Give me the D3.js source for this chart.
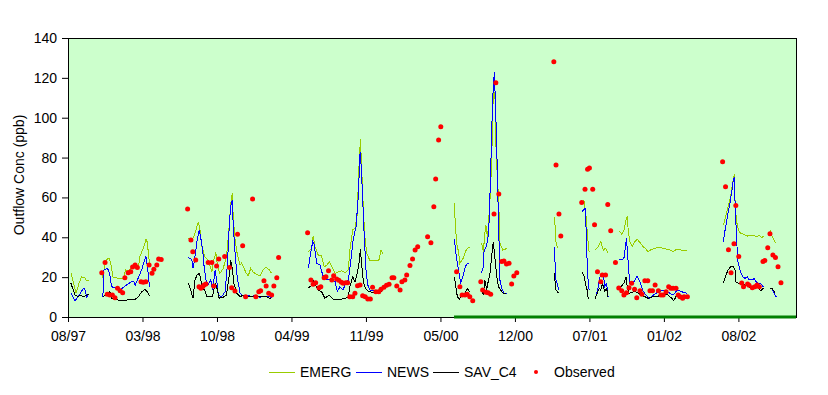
<!DOCTYPE html>
<meta charset="utf-8">
<style>
body { margin: 0; background: #fff; }
text { font-family: Arial, "Liberation Sans", sans-serif; font-size: 14px; fill: #000; }
.axis path.domain { display: none; }
.axis line { stroke: #000; }
</style>
<svg></svg>
<script src="https://d3js.org/d3.v7.min.js"></script>
<script>

// x values are days since mid-August 1997, y values are ppb
var tickLabels = ["08/97", "03/98", "10/98", "04/99", "11/99", "05/00", "12/00", "07/01", "01/02", "08/02"];
var tickStep = 203;   // days between labelled ticks
var dayMax = 1984;
var yTicks = [0, 20, 40, 60, 80, 100, 120, 140];

var emerg = [
  [[8,22.2],[22,12.0],[30,16.9],[37,20.1],[46,19.6],[51,18.1],[57,18.1]],
  [[93,19.4],[104,28.6],[112,29.6],[116,27.5],[123,19.9],[137,19.4],[151,19.6],[157,23.6],[164,22.9],[174,24.9],[183,26.1],[192,24.9],[196,30.3],[205,34.5],[213,39.1],[216,37.5],[222,26.9]],
  [[328,39.5],[337,37.8],[346,42.0],[355,47.8],[360,43.7],[364,36.1],[373,30.3],[382,28.4],[392,22.7],[396,27.8],[403,32.3],[408,25.0],[414,21.9],[423,24.4],[432,30.3],[440,47.0],[443,56.2],[448,62.4],[450,51.0],[455,39.5],[460,32.8],[469,26.1],[473,27.0],[480,24.4],[485,22.2],[491,20.6],[498,24.4],[505,22.5],[514,21.4],[523,20.6],[532,23.9],[540,24.9],[549,23.6],[555,21.9]],
  [[655,32.8],[664,34.5],[668,40.6],[673,35.3],[682,31.1],[691,30.6],[698,25.2],[705,25.9],[712,27.8],[719,25.2],[728,21.9],[737,22.7],[746,23.2],[755,22.2],[764,23.6],[768,33.6],[776,43.7],[782,44.4],[788,51.2],[793,75.4],[797,89.2],[800,75.4],[805,53.7],[809,40.3],[814,32.0],[823,28.3],[837,28.1],[847,28.3],[853,33.6],[859,31.5]],
  [[1053,57.0],[1055,48.7],[1059,37.0],[1064,33.0],[1068,26.9],[1077,29.5],[1086,34.0],[1094,35.0]],
  [[1127,37.3],[1132,32.8],[1136,42.0],[1139,46.2],[1143,40.0],[1145,44.0],[1150,58.7],[1155,78.8],[1157,103.9],[1161,113.0],[1164,109.0],[1166,87.2],[1170,70.4],[1174,57.1],[1177,37.0],[1185,33.6],[1191,34.0],[1195,34.5]],
  [[1325,50.0],[1328,45.0],[1330,37.8],[1334,34.5]],
  [[1400,57.4],[1406,58.7],[1412,50.3],[1416,40.3],[1420,32.8]],
  [[1436,33.6],[1444,35.0],[1452,37.8],[1459,33.6],[1465,34.5],[1472,32.3]],
  [[1502,43.2],[1509,41.6],[1515,43.5],[1521,48.7],[1524,50.7],[1527,42.8],[1531,37.8],[1538,35.6],[1545,37.8],[1551,39.0],[1559,37.3],[1566,35.6],[1574,34.3],[1581,32.8],[1591,34.0],[1600,34.5],[1613,35.0],[1627,34.2],[1640,33.6],[1649,32.8],[1659,34.0],[1672,33.6],[1686,33.6]],
  [[1786,46.0],[1793,51.2],[1799,55.3],[1806,60.4],[1811,67.1],[1816,71.5],[1818,57.1],[1822,48.0],[1827,43.7],[1833,42.0],[1842,41.5],[1851,40.6],[1860,41.0],[1867,41.1],[1877,40.3],[1884,41.1],[1890,39.8],[1897,40.6]],
  [[1913,43.7],[1918,41.0],[1924,38.6],[1929,37.0]]
];

var news = [
  [[8,11.9],[19,8.2],[28,10.2],[42,14.4],[46,13.9],[51,10.2],[57,11.4]],
  [[95,10.2],[98,23.6],[107,24.4],[110,23.6],[114,21.0],[119,15.2],[130,14.5],[142,13.5],[153,15.2],[160,16.1],[166,16.9],[174,17.7],[180,17.7],[183,16.0],[193,20.2],[202,24.4],[212,30.6],[216,26.1],[222,15.2]],
  [[328,29.8],[337,29.0],[341,24.4],[346,30.3],[352,38.6],[358,43.7],[362,39.5],[367,33.6],[371,25.2],[376,18.6],[382,16.1],[389,18.6],[394,13.5],[401,23.6],[405,18.6],[410,11.0],[419,10.2],[428,12.7],[434,25.2],[439,43.7],[443,55.3],[448,58.7],[450,47.0],[455,32.8],[461,20.2],[469,11.9],[478,10.5],[487,11.0],[501,10.2],[510,11.0],[523,9.9],[537,10.5],[550,10.2],[555,9.4]],
  [[655,24.4],[661,32.0],[667,37.8],[670,37.0],[678,26.9],[687,26.1],[694,21.1],[705,18.6],[719,18.6],[728,17.7],[734,12.7],[741,15.2],[749,13.5],[758,17.2],[764,18.6],[770,26.9],[777,38.6],[785,45.3],[791,60.4],[796,82.9],[798,78.7],[802,63.7],[807,42.0],[812,23.6],[817,16.1],[823,13.5],[837,13.2],[850,12.7],[859,13.2]],
  [[1053,39.0],[1056,33.6],[1061,26.9],[1066,21.9],[1070,17.2],[1076,20.0],[1082,24.4],[1086,26.5],[1094,26.9]],
  [[1127,22.2],[1132,25.0],[1134,33.6],[1139,35.0],[1144,38.6],[1148,48.7],[1152,73.8],[1155,95.5],[1159,115.6],[1162,123.1],[1164,112.0],[1168,88.8],[1172,57.1],[1175,35.3],[1177,18.6],[1182,14.4],[1188,11.9],[1195,11.7]],
  [[1325,35.0],[1328,25.2],[1330,18.6],[1333,16.9],[1337,13.5]],
  [[1401,52.8],[1409,54.5],[1411,50.0],[1413,37.0],[1416,21.9],[1419,14.4],[1422,13.5]],
  [[1436,8.9],[1441,11.9],[1445,15.2],[1450,20.2],[1454,21.9],[1459,21.0],[1463,15.2],[1468,16.9],[1472,10.2]],
  [[1502,28.9],[1512,28.9],[1515,29.4],[1519,35.3],[1522,39.5],[1525,32.0],[1528,23.6],[1531,16.9],[1538,16.4],[1545,18.6],[1551,20.6],[1559,17.7],[1566,13.5],[1575,11.0],[1584,9.4],[1595,11.0],[1609,12.7],[1622,13.5],[1631,13.2],[1640,11.9],[1649,11.0],[1660,13.5],[1672,12.7],[1686,11.9]],
  [[1786,37.8],[1790,42.8],[1797,50.3],[1804,57.1],[1809,63.0],[1813,68.7],[1816,70.4],[1818,57.1],[1822,40.3],[1825,28.6],[1829,25.2],[1833,22.7],[1839,20.2],[1845,19.4],[1851,20.2],[1857,18.6],[1866,18.6],[1870,19.4],[1875,17.7],[1881,16.9],[1888,16.6],[1895,15.2]],
  [[1913,14.0],[1918,14.5],[1922,12.7],[1927,11.0],[1931,9.9]]
];

var savC4 = [
  [[8,16.9],[19,11.0],[28,10.2],[33,11.0],[42,10.2],[51,11.0],[57,11.4]],
  [[95,10.2],[110,11.9],[114,12.7],[119,9.4],[137,8.5],[160,8.5],[183,8.9],[192,10.2],[201,12.7],[210,13.9],[216,12.7],[222,10.5]],
  [[328,17.2],[335,13.0],[341,9.4],[346,18.6],[352,21.1],[358,21.9],[362,18.6],[367,14.4],[373,13.5],[378,10.2],[387,10.5],[394,10.2],[401,16.9],[405,15.2],[412,9.4],[423,9.9],[432,11.0],[440,21.9],[443,28.6],[448,24.4],[452,16.9],[460,11.9],[469,10.2],[478,11.0],[487,10.2],[501,10.5],[514,9.9],[528,10.5],[541,10.2],[552,9.0]],
  [[655,14.7],[664,15.7],[668,18.6],[676,15.7],[682,13.5],[691,12.7],[700,9.4],[712,11.0],[723,8.9],[741,8.9],[755,9.2],[764,10.2],[768,15.2],[776,20.2],[782,17.7],[788,21.9],[793,26.9],[797,34.0],[800,26.9],[805,17.7],[811,14.4],[818,13.0],[832,12.2],[846,12.7],[859,13.2]],
  [[1053,19.9],[1057,15.2],[1061,10.2],[1066,8.9],[1073,10.8],[1082,11.9],[1088,14.4],[1094,12.7]],
  [[1127,13.5],[1132,11.0],[1136,18.6],[1141,13.5],[1145,17.7],[1150,21.9],[1155,31.1],[1159,37.8],[1164,28.6],[1168,21.1],[1173,15.2],[1179,13.5],[1186,11.9],[1194,11.7]],
  [[1325,21.9],[1328,17.0],[1330,13.5],[1337,11.9]],
  [[1401,22.7],[1407,20.2],[1412,15.2],[1415,13.5],[1418,8.9]],
  [[1436,8.9],[1442,11.9],[1448,14.4],[1452,13.5],[1457,16.9],[1463,12.7],[1468,14.4],[1472,9.9]],
  [[1502,14.4],[1509,15.7],[1515,16.9],[1521,19.9],[1524,15.5],[1528,11.9],[1536,12.2],[1545,13.0],[1554,11.9],[1563,11.0],[1572,10.2],[1581,9.4],[1595,10.2],[1609,10.5],[1622,11.5],[1636,11.0],[1645,9.4],[1651,8.2],[1659,11.0],[1672,10.5],[1686,9.9]],
  [[1786,16.9],[1793,21.1],[1799,23.6],[1806,25.2],[1813,25.2],[1818,23.6],[1820,17.7],[1827,16.9],[1836,16.1],[1845,16.1],[1854,15.2],[1863,14.7],[1872,15.4],[1881,14.4],[1888,13.2],[1895,14.4]],
  [[1913,14.4],[1918,14.4],[1927,12.2]]
];

var observed = [
  [92,22.2],[101,27.3],[107,11.4],[114,11.0],[121,11.0],[128,9.7],[135,14.4],[142,13.2],[149,12.2],[155,19.7],
  [164,22.2],[171,22.7],[176,25.1],[183,26.1],[189,24.9],[199,17.7],[205,17.4],[212,17.7],[221,26.1],[229,21.9],
  [234,23.9],[242,26.1],[247,29.1],[254,28.9],
  [326,54.2],[335,38.6],[340,32.8],[348,28.6],[357,15.2],[362,14.4],[367,15.2],[371,16.1],[376,16.6],[382,27.3],
  [392,27.3],[397,15.6],[405,25.6],[411,29.1],[427,30.3],[440,24.9],[446,14.7],[455,13.0],[462,41.5],[476,35.8],
  [484,10.2],[503,59.2],[512,10.2],[520,12.7],[525,13.2],[534,18.2],[540,15.6],[547,11.9],[555,11.0],[561,15.6],
  [569,19.7],[574,29.8],
  [653,42.3],[662,18.6],[668,16.4],[675,17.2],[684,14.7],[689,15.2],[698,19.7],[703,20.2],[710,23.2],[719,18.6],
  [724,20.7],[732,19.1],[738,18.4],[745,17.4],[750,16.9],[757,17.2],[762,17.2],[768,10.2],[776,10.2],[782,11.9],
  [789,15.7],[796,16.1],[803,10.7],[810,10.2],[817,9.0],[824,9.0],[830,14.9],[839,12.7],[847,12.7],[853,13.9],
  [861,14.9],[868,15.9],[875,16.4],[883,19.7],[888,19.7],[896,15.6],[905,13.5],[910,17.7],[918,18.6],[923,21.1],
  [932,25.8],[939,29.1],[946,33.6],[953,35.3],[980,40.3],[989,37.3],[997,55.3],[1002,69.2],[1010,88.8],[1016,95.5],
  [1059,22.7],[1068,15.2],[1074,11.0],[1082,11.0],[1088,11.4],[1095,10.2],[1103,8.2],
  [1125,17.7],[1130,13.5],[1139,12.4],[1145,12.2],[1152,11.4],[1161,51.7],[1166,117.6],[1174,61.7],[1182,27.8],
  [1188,28.1],[1195,26.6],[1202,27.0],[1209,16.6],[1215,20.6],[1223,22.2],
  [1324,128.1],[1330,76.3],[1338,51.7],[1343,40.6],
  [1400,57.4],[1409,64.1],[1416,74.1],[1421,74.8],[1430,64.1],[1435,46.3],[1443,22.7],[1452,17.7],[1456,21.1],
  [1465,21.1],[1471,56.4],[1479,43.3],[1492,27.3],[1501,14.6],
  [1509,13.2],[1515,11.0],[1522,12.2],[1529,14.7],[1536,16.9],[1544,13.9],[1550,9.7],[1559,13.2],[1564,11.4],
  [1572,18.2],[1580,18.2],[1586,13.2],[1593,13.2],[1600,16.1],[1609,13.2],[1616,11.0],[1622,11.0],[1630,12.7],
  [1637,15.2],[1643,14.4],[1649,14.4],[1657,14.4],[1663,11.0],[1668,10.2],[1675,9.4],[1679,10.2],[1688,10.2],
  [1784,77.9],[1792,65.4],[1800,33.8],[1807,22.2],[1815,36.8],[1820,55.9],[1828,30.3],[1836,17.1],[1841,15.2],
  [1852,16.6],[1856,15.9],[1865,14.7],[1872,15.2],[1878,16.1],[1884,15.2],[1894,27.8],[1899,28.3],[1907,34.8],
  [1913,41.8],[1921,31.1],[1928,29.8],[1935,25.2],[1943,17.2]
];

// dark green series lying on zero from mid-2000 to the end
var zeroSeries = [[1052, 0], [1984, 0]];

var svg = d3.select("svg")
    .attr("width", 828)
    .attr("height", 395);

var x = d3.scaleLinear().domain([0, dayMax]).range([68, 796]),
    y = d3.scaleLinear().domain([0, 140]).range([317, 38]);

// plot area
svg.append("rect")
    .attr("x", x(0))
    .attr("y", y(140))
    .attr("width", x(dayMax) - x(0))
    .attr("height", y(0) - y(140))
    .attr("fill", "#ccffcc")
    .attr("stroke", "#000")
    .attr("stroke-width", 1)
    .attr("shape-rendering", "crispEdges");

svg.append("g")
    .attr("class", "axis")
    .attr("transform", "translate(" + x(0) + ",0)")
    .call(d3.axisLeft(y).tickValues(yTicks).tickSize(6).tickPadding(5));

svg.append("g")
    .attr("class", "axis")
    .attr("transform", "translate(0," + y(0) + ")")
    .call(d3.axisBottom(x)
      .tickValues(tickLabels.map(function(d, i) { return i * tickStep; }))
      .tickFormat(function(d, i) { return tickLabels[i]; })
      .tickSize(5).tickPadding(9));

svg.selectAll(".axis text").style("font-size", "14px").attr("fill", "#000");

svg.append("text")
    .attr("transform", "translate(24," + 175 + ") rotate(-90)")
    .attr("text-anchor", "middle")
    .text("Outflow Conc (ppb)");

var line = d3.line()
    .x(function(d) { return x(d[0]); })
    .y(function(d) { return y(d[1]); });

var series = [
  {name: "EMERG", data: emerg, color: "#99cc00"},
  {name: "NEWS", data: news, color: "#0000ff"},
  {name: "SAV_C4", data: savC4, color: "#000000"}
];

series.forEach(function(s) {
  svg.append("g")
    .selectAll("path")
    .data(s.data)
    .enter().append("path")
    .attr("d", line)
    .attr("fill", "none")
    .attr("stroke", s.color)
    .attr("stroke-width", 1)
    .attr("shape-rendering", "crispEdges");
});

svg.append("path")
    .datum(zeroSeries)
    .attr("d", line)
    .attr("fill", "none")
    .attr("stroke", "#008000")
    .attr("stroke-width", 3);

svg.append("g")
    .selectAll("circle")
    .data(observed)
    .enter().append("circle")
    .attr("cx", function(d) { return x(d[0]); })
    .attr("cy", function(d) { return y(d[1]); })
    .attr("r", 2.5)
    .attr("fill", "#ff0000");

// legend
var legend = svg.append("g").attr("transform", "translate(0,372)");
var legendX = [269, 356, 433];
series.forEach(function(s, i) {
  legend.append("line")
    .attr("x1", legendX[i]).attr("x2", legendX[i] + 26)
    .attr("y1", 0).attr("y2", 0)
    .attr("stroke", s.color)
    .attr("shape-rendering", "crispEdges");
  legend.append("text")
    .attr("x", legendX[i] + 31)
    .attr("y", 5)
    .text(s.name);
});
legend.append("circle")
    .attr("cx", 536).attr("cy", 0).attr("r", 2)
    .attr("fill", "#ff0000");
legend.append("text")
    .attr("x", 554)
    .attr("y", 5)
    .text("Observed");

</script>
